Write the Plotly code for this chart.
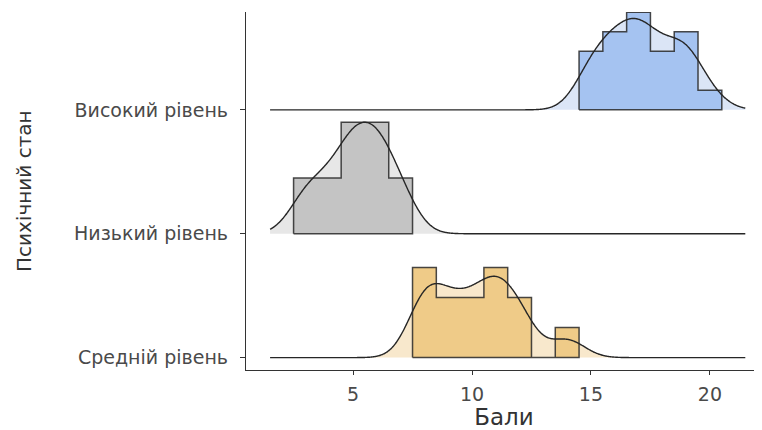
import numpy as np
import plotly.graph_objects as go

# ---- data ----
categories = ["Средній рівень", "Низький рівень", "Високий рівень"]

mid_scores = [8, 9, 10, 11, 12, 13, 14]
mid_counts = [3, 2, 2, 3, 2, 0, 1]

low_scores = [3, 4, 5, 6, 7]
low_counts = [1, 1, 2, 2, 1]

high_scores = [15, 16, 17, 18, 19, 20]
high_counts = [3, 4, 5, 3, 4, 1]

x_ticks = [5, 10, 15, 20]
x_title = "Бали"
y_title = "Психічний стан"

fill_main = ["#efcb88", "#c4c4c4", "#a5c3f1"]
fill_light = ["#f8e8cc", "#e7e7e7", "#dbe5f6"]

groups = [
    (mid_scores, mid_counts),
    (low_scores, low_counts),
    (high_scores, high_counts),
]

# ---- stats (histogram density + gaussian KDE with joint nrd0 bandwidth) ----
def bw_nrd0(v):
    sd = np.std(v, ddof=1)
    q75, q25 = np.percentile(v, [75, 25])
    lo = min(sd, (q75 - q25) / 1.34)
    return 0.9 * lo * len(v) ** -0.2

raws = [np.repeat(np.array(s, float), c) for s, c in groups]
bw = float(np.mean([bw_nrd0(r) for r in raws]))
allv = np.concatenate(raws)
grid = np.linspace(allv.min() - 2 * bw, allv.max() + 2 * bw, 600)

kdes = []
for r in raws:
    z = (grid[:, None] - r[None, :]) / bw
    kdes.append(np.exp(-0.5 * z ** 2).sum(axis=1) / (len(r) * bw * np.sqrt(2 * np.pi)))
kmax = max(k.max() for k in kdes)

hdens = [np.array(c, float) / np.sum(c) for s, c in groups]
hmax = max(h.max() for h in hdens)
scale = 0.9

fig = go.Figure()
for i, ((scores, counts), kde, hd) in enumerate(zip(groups, kdes, hdens)):
    base = i + 1
    ky = base + kde / kmax * scale
    # light density fill
    fig.add_trace(go.Scatter(
        x=np.concatenate([grid, grid[::-1]]),
        y=np.concatenate([ky, np.full_like(grid, base)]),
        fill="toself", fillcolor=fill_light[i], mode="none",
        hoverinfo="skip", showlegend=False))
    # histogram step polygon
    sc = np.array(scores, float)
    hx, hy = [sc[0] - 0.5], [base]
    for xv, h in zip(sc, hd):
        top = base + h / hmax * scale
        hx += [xv - 0.5, xv + 0.5]
        hy += [top, top]
    hx += [sc[-1] + 0.5, sc[0] - 0.5]
    hy += [base, base]
    fig.add_trace(go.Scatter(
        x=hx, y=hy, fill="toself", fillcolor=fill_main[i], mode="lines",
        line=dict(color="rgba(40,40,40,0.85)", width=1.5),
        hoverinfo="skip", showlegend=False))
    # density line
    fig.add_trace(go.Scatter(
        x=grid, y=ky, mode="lines",
        line=dict(color="#262626", width=1.4, shape="spline"),
        hoverinfo="skip", showlegend=False))

tick_font = dict(family="DejaVu Sans", size=19, color="#4a4a4a")

# The page body adds an 8px offset; size the figure so it fills the 762x430 window.
fig.update_layout(
    width=754, height=422,
    margin=dict(l=238, r=0, t=4, b=60, autoexpand=False),
    paper_bgcolor="white", plot_bgcolor="white",
    showlegend=False,
    xaxis=dict(
        range=[0.5, 22.19], tickvals=x_ticks, ticktext=[str(t) for t in x_ticks],
        showgrid=False, zeroline=False, showline=True, linecolor="#333333", linewidth=1.3,
        ticks="outside", ticklen=4, tickwidth=1.3, tickcolor="#333333",
        tickfont=tick_font, automargin=False, ticklabelstandoff=3,
        title=dict(text=x_title, font=dict(family="DejaVu Sans", size=23, color="#333333"), standoff=5),
    ),
    yaxis=dict(
        range=[0.90, 3.79], tickvals=[1, 2, 3], ticktext=categories,
        showgrid=False, zeroline=False, showline=True, linecolor="#333333", linewidth=1.3,
        ticks="outside", ticklen=5, tickwidth=1.3, tickcolor="#333333",
        tickfont=tick_font, automargin=False, ticklabelstandoff=8,
    ),
    annotations=[dict(
        text=y_title, xref="paper", yref="paper",
        x=-(238 - 16) / 516, y=0.5, xanchor="center", yanchor="middle",
        textangle=-90, showarrow=False,
        font=dict(family="DejaVu Sans", size=20, color="#333333"),
    )],
)

fig.write_html("out.html")
